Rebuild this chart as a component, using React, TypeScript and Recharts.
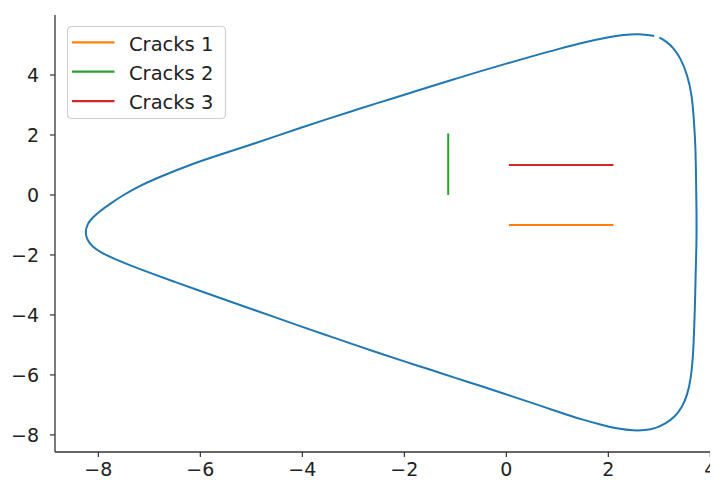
import React from 'react';
import { ComposedChart, Line, XAxis, YAxis, Legend } from 'recharts';

// Closed boundary curve, starting just after the small gap on top, clockwise
const boundaryX = [
  3.0, 3.13, 3.26, 3.42, 3.55, 3.64, 3.68, 3.71, 3.72, 3.73, 3.73, 3.71, 3.70, 3.68, 3.66, 3.62,
  3.55, 3.44, 3.30, 3.13, 2.93, 2.72, 2.5, 2.2, 1.9, 1.5, 1.0, 0.5, 0.0, -0.5,
  -1.0, -1.5, -2.0, -2.5, -3.0, -3.5, -4.0, -4.5, -5.0, -5.5, -6.0, -6.5, -7.0, -7.4,
  -7.7, -7.95, -8.12, -8.22, -8.26, -8.22, -8.12, -7.97, -7.8, -7.53, -7.2, -6.8, -6.22, -5.6,
  -5.0, -4.5, -4.0, -3.5, -3.0, -2.5, -2.0, -1.5, -1.0, -0.5, 0.0, 0.5, 1.0, 1.6,
  2.0, 2.3, 2.6, 2.9,
];
const boundaryY = [
  5.25, 5.12, 4.94, 4.56, 4.0, 3.33, 2.44, 1.6, 0.5, -0.6, -1.67, -2.7, -3.6, -4.6, -5.4, -6.11,
  -6.67, -7.1, -7.4, -7.62, -7.78, -7.85, -7.86, -7.80, -7.68, -7.50, -7.22, -6.93, -6.65, -6.37,
  -6.10, -5.82, -5.55, -5.27, -4.98, -4.69, -4.40, -4.10, -3.80, -3.50, -3.20, -2.90, -2.59, -2.33,
  -2.12, -1.92, -1.72, -1.50, -1.25, -0.98, -0.76, -0.54, -0.33, -0.02, 0.30, 0.60, 1.0, 1.35,
  1.68, 1.97, 2.26, 2.54, 2.81, 3.08, 3.34, 3.61, 3.87, 4.13, 4.38, 4.62, 4.86, 5.12,
  5.26, 5.34, 5.38, 5.30,
];

const crack1X = [0.05, 2.1];
const crack1Y = [-1, -1];
const crack2X = [-1.14, -1.14];
const crack2Y = [0, 2.05];
const crack3X = [0.05, 2.1];
const crack3Y = [1, 1];

const seriesNames = ['Cracks 1', 'Cracks 2', 'Cracks 3'];
const seriesColors = ['#ff7f0e', '#2ca02c', '#d62728'];
const boundaryColor = '#1f77b4';

const xTicks = [-8, -6, -4, -2, 0, 2, 4];
const yTicks = [-8, -6, -4, -2, 0, 2, 4];
const X_DOMAIN: [number, number] = [-8.85, 4.15];
const Y_DOMAIN: [number, number] = [-8.57, 6.0];

const toPts = (xs: number[], ys: number[]) => xs.map((x, i) => ({ x, y: ys[i] }));
const boundary = toPts(boundaryX, boundaryY);
const cracks = [toPts(crack1X, crack1Y), toPts(crack2X, crack2Y), toPts(crack3X, crack3Y)];

const fmt = (v: number) => (v < 0 ? '\u2212' + Math.abs(v) : String(v));
const FONT = 'DejaVu Sans';
const AXIS = '#333333';
const tickStyle = { fill: '#222222', fontSize: 19, fontFamily: FONT };

const LegendBox = () => (
  <svg width={160} height={94} style={{ display: 'block' }}>
    <rect x={0.5} y={0.5} width={158} height={92} rx={4} ry={4} fill="#ffffff" fillOpacity={0.8} stroke="#cfcfcf" strokeWidth={1.2} />
    {seriesNames.map((n, i) => {
      const cy = 16.3 + i * 29.4;
      return (
        <g key={n}>
          <line x1={5} x2={47.5} y1={cy} y2={cy} stroke={seriesColors[i]} strokeWidth={2.2} />
          <text x={62} y={cy + 8.2} fontSize={19.5} fontFamily={FONT} fill="#222222">
            {n}
          </text>
        </g>
      );
    })}
  </svg>
);

export default function App() {
  return (
    <ComposedChart width={710} height={472} margin={{ top: 7, right: 0, bottom: 0, left: 0 }}>
      <XAxis
        type="number"
        dataKey="x"
        domain={X_DOMAIN}
        ticks={xTicks}
        allowDataOverflow
        interval={0}
        height={28}
        tickSize={5}
        tickMargin={6}
        tickFormatter={fmt}
        tick={tickStyle}
        axisLine={{ stroke: AXIS, strokeWidth: 1.3 }}
        tickLine={{ stroke: AXIS, strokeWidth: 1.2 }}
      />
      <XAxis
        xAxisId="top"
        orientation="top"
        type="number"
        dataKey="x"
        domain={X_DOMAIN}
        allowDataOverflow
        height={0}
        tick={false}
        tickLine={false}
        axisLine={{ stroke: AXIS, strokeWidth: 1.3 }}
      />
      <YAxis
        type="number"
        dataKey="y"
        domain={Y_DOMAIN}
        ticks={yTicks}
        allowDataOverflow
        interval={0}
        width={47}
        tickSize={5}
        tickMargin={11}
        tickFormatter={fmt}
        tick={tickStyle}
        axisLine={{ stroke: AXIS, strokeWidth: 1.3 }}
        tickLine={{ stroke: AXIS, strokeWidth: 1.2 }}
      />
      <Line
        data={boundary}
        dataKey="y"
        type="basis"
        stroke={boundaryColor}
        strokeWidth={2}
        dot={false}
        activeDot={false}
        legendType="none"
        isAnimationActive={false}
      />
      {cracks.map((d, i) => (
        <Line
          key={seriesNames[i]}
          data={d}
          name={seriesNames[i]}
          dataKey="y"
          type="linear"
          stroke={seriesColors[i]}
          strokeWidth={2}
          dot={false}
          activeDot={false}
          isAnimationActive={false}
        />
      ))}
      <Legend
        layout="vertical"
        align="center"
        verticalAlign="middle"
        content={() => <LegendBox />}
        wrapperStyle={{ position: 'absolute', left: 58.5, top: 17.5, width: 'auto', height: 'auto' }}
      />
    </ComposedChart>
  );
}
